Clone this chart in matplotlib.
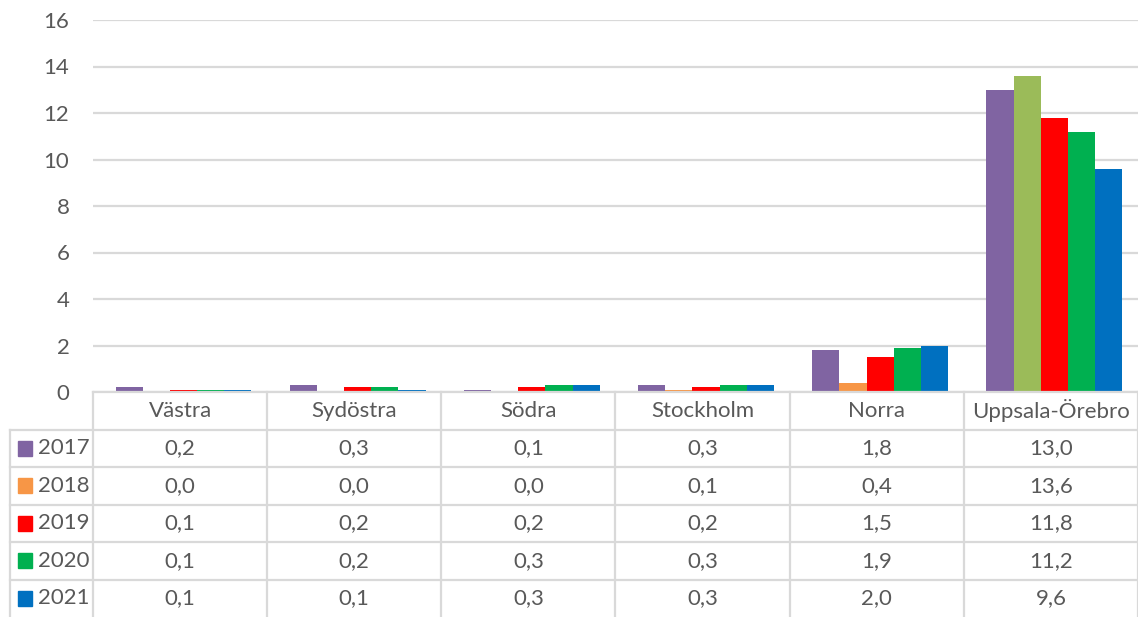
import matplotlib.pyplot as plt
import numpy as np

plt.rcParams['font.family'] = ['Lato', 'DejaVu Sans']

regions = ['Västra', 'Sydöstra', 'Södra', 'Stockholm', 'Norra', 'Uppsala-Örebro']
years = ['2017', '2018', '2019', '2020', '2021']
v2017 = [0.2, 0.3, 0.1, 0.3, 1.8, 13.0]
v2018 = [0.0, 0.0, 0.0, 0.1, 0.4, 13.6]
v2019 = [0.1, 0.2, 0.2, 0.2, 1.5, 11.8]
v2020 = [0.1, 0.2, 0.3, 0.3, 1.9, 11.2]
v2021 = [0.1, 0.1, 0.3, 0.3, 2.0, 9.6]
series = [v2017, v2018, v2019, v2020, v2021]
colors = ['#8064A2', '#F79646', '#FF0000', '#00B050', '#0070C0']
# Excel point override: Uppsala-Örebro 2018 bar is olive green
override = {(1, 5): '#9BBB59'}

txt = '#595959'
grid = '#D9D9D9'
W, H = 1138, 617
fs = 16

fig = plt.figure(figsize=(W / 100, H / 100), dpi=100)

# bar area
ax = fig.add_axes([93 / W, (H - 392) / H, (W - 93) / W, (392 - 20) / H])
x = np.arange(len(regions))
n = len(series)
bw = 0.78 / n
for i, vals in enumerate(series):
    cols = [override.get((i, j), colors[i]) for j in range(len(regions))]
    ax.bar(x + (i - (n - 1) / 2) * bw + 0.02, vals, bw, color=cols, zorder=3)
ax.set_xlim(-0.5, len(regions) - 0.5)
ax.set_ylim(0, 16)
ax.set_yticks(range(0, 17, 2))
ax.set_xticks([])
ax.yaxis.grid(True, color=grid, linewidth=1.6, zorder=0)
for s in ax.spines.values():
    s.set_visible(False)
ax.tick_params(axis='y', length=0, pad=17, labelsize=fs, labelcolor=txt)

# data table below
tax = fig.add_axes([10 / W, 0, (W - 10) / W, (H - 392) / H])
left = -0.5 - 83 / 174.2
tax.set_xlim(left, len(regions) - 0.5)
nrows = len(years) + 1
tax.set_ylim(nrows, 0)
tax.axis('off')
lw = 1.6
# horizontal lines
tax.plot([-0.5, len(regions) - 0.5], [0, 0], color=grid, lw=lw, clip_on=False)
for r in range(1, nrows):
    tax.plot([left, len(regions) - 0.5], [r, r], color=grid, lw=lw, clip_on=False)
# vertical lines
tax.plot([left, left], [1, nrows], color=grid, lw=lw, clip_on=False)
for c in range(len(regions) + 1):
    tax.plot([c - 0.5, c - 0.5], [0, nrows], color=grid, lw=lw, clip_on=False)

for j, name in enumerate(regions):
    tax.text(j, 0.5, name, ha='center', va='center', fontsize=fs, color=txt)
for i, vals in enumerate(series):
    y = i + 1.5
    tax.add_patch(plt.Rectangle((left + 0.045, y - 0.2), 0.08, 0.4,
                                color=colors[i], clip_on=False))
    tax.text(left + 0.16, y, years[i], ha='left', va='center', fontsize=fs, color=txt)
    for j, v in enumerate(vals):
        tax.text(j, y, f'{v:.1f}'.replace('.', ','), ha='center', va='center',
                 fontsize=fs, color=txt)

fig.savefig('out.png', dpi=100)
